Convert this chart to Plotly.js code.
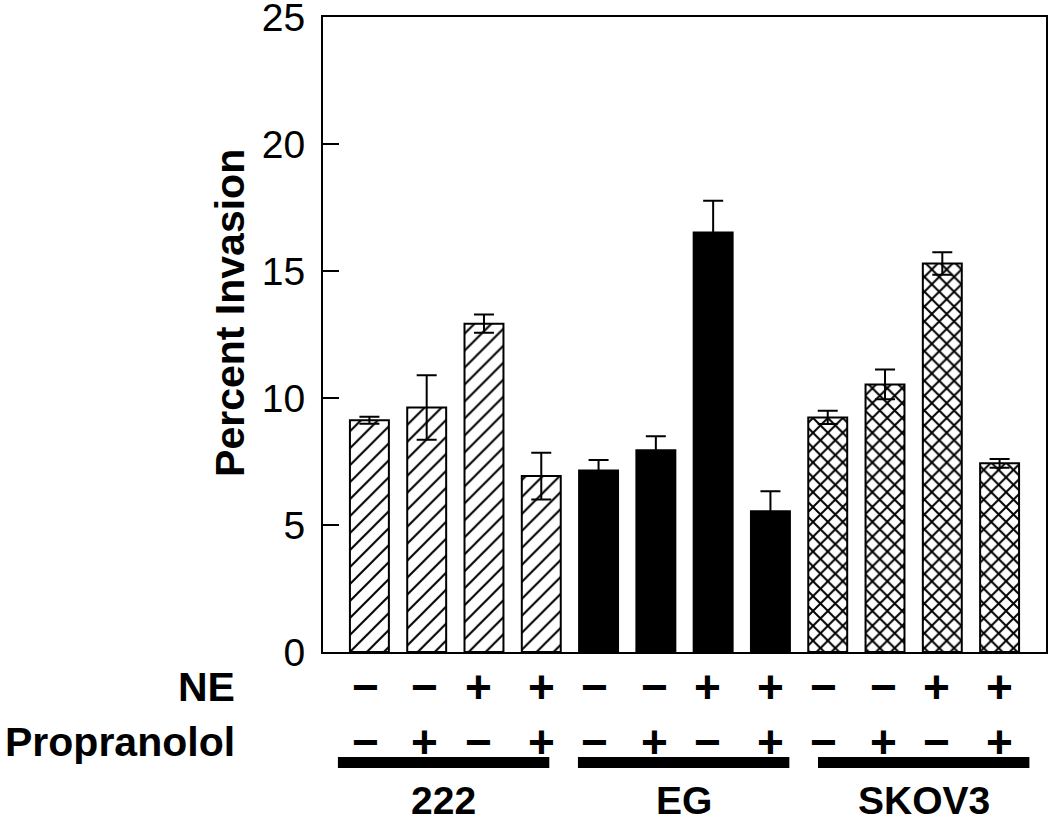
<!DOCTYPE html>
<html>
<head>
<meta charset="utf-8">
<script src="https://cdn.plot.ly/plotly-3.0.1.min.js"></script>
<style>html,body{margin:0;padding:0;background:#fff;}#chart{width:1050px;height:821px;}</style>
</head>
<body>
<div id="chart"></div>
<script>
// ---- data ----
const cellLines = ['222', 'EG', 'SKOV3'];
const neSigns = ['\u2212', '\u2212', '+', '+'];
const propSigns = ['\u2212', '+', '\u2212', '+'];
const values222 = [9.13, 9.63, 12.93, 6.93];
const errors222 = [0.14, 1.27, 0.36, 0.92];
const valuesEG = [7.15, 7.95, 16.52, 5.54];
const errorsEG = [0.41, 0.55, 1.25, 0.79];
const valuesSKOV3 = [9.24, 10.54, 15.30, 7.43];
const errorsSKOV3 = [0.26, 0.59, 0.44, 0.17];
const yTicks = [0, 5, 10, 15, 20, 25];

// ---- build ----
const FONT = '"Liberation Sans", Arial, Helvetica, sans-serif';
const groupVals = [values222, valuesEG, valuesSKOV3];
const groupErrs = [errors222, errorsEG, errorsSKOV3];
const patterns = [
  {shape: '/', size: 12, solidity: 0.17, fgcolor: '#000', bgcolor: '#fff', fillmode: 'replace'},
  {shape: '', fgcolor: '#000', bgcolor: '#000'},
  {shape: 'x', size: 10.5, solidity: 0.34, fgcolor: '#000', bgcolor: '#fff', fillmode: 'replace'}
];
const fills = ['#fff', '#000', '#fff'];

const cats = [];
cellLines.forEach(c => neSigns.forEach((n, i) => cats.push(c + ' NE' + n + ' P' + propSigns[i])));

const traces = cellLines.map((c, g) => ({
  type: 'bar',
  x: cats.slice(g * 4, g * 4 + 4),
  y: groupVals[g],
  width: 0.68,
  marker: {color: fills[g], pattern: patterns[g], line: {color: '#000', width: 2}},
  error_y: {type: 'data', array: groupErrs[g], visible: true, color: '#000', thickness: 2, width: 10},
  showlegend: false,
  hoverinfo: 'y'
}));

const annotations = [];
const shapes = [];
const rowY = {ne: -0.055, prop: -0.1417};
const signShift = [-0.07, -0.03, -0.1, 0];
cats.forEach((c, k) => {
  const i = k % 4;
  annotations.push({x: k + signShift[i], y: rowY.ne, xref: 'x', yref: 'paper', text: neSigns[i], showarrow: false,
    font: {family: FONT, size: 46, color: '#000', weight: 'bold'}, xanchor: 'center', yanchor: 'middle'});
  annotations.push({x: k + signShift[i], y: rowY.prop, xref: 'x', yref: 'paper', text: propSigns[i], showarrow: false,
    font: {family: FONT, size: 46, color: '#000', weight: 'bold'}, xanchor: 'center', yanchor: 'middle'});
});
cellLines.forEach((c, g) => {
  const x0 = g * 4 - 0.55 + g * 0.19, x1 = x0 + 3.69;
  shapes.push({type: 'rect', xref: 'x', yref: 'paper', x0: x0, x1: x1, y0: -0.1827, y1: -0.1654,
    fillcolor: '#000', line: {width: 0}});
  annotations.push({x: (x0 + x1) / 2, y: -0.2331, xref: 'x', yref: 'paper', text: '<b>' + c + '</b>', showarrow: false,
    font: {family: FONT, size: 39, color: '#000'}, xanchor: 'center', yanchor: 'middle'});
});
annotations.push({x: -0.119, y: -0.055, xref: 'paper', yref: 'paper', text: '<b>NE</b>', showarrow: false,
  font: {family: FONT, size: 41, color: '#000'}, xanchor: 'right', yanchor: 'middle'});
annotations.push({x: -0.119, y: -0.1417, xref: 'paper', yref: 'paper', text: '<b>Propranolol</b>', showarrow: false,
  font: {family: FONT, size: 41, color: '#000'}, xanchor: 'right', yanchor: 'middle'});
annotations.push({x: -0.1286, y: 0.534, xref: 'paper', yref: 'paper', text: '<b>Percent Invasion</b>', showarrow: false,
  textangle: -90, font: {family: FONT, size: 41, color: '#000'}, xanchor: 'center', yanchor: 'middle'});

const layout = {
  width: 1050, height: 821,
  margin: {l: 323, r: 4, t: 17, b: 169},
  paper_bgcolor: '#fff', plot_bgcolor: '#fff',
  barmode: 'overlay',
  font: {family: FONT, color: '#000'},
  xaxis: {type: 'category', categoryorder: 'array', categoryarray: cats, range: [-0.81, 11.81],
    showticklabels: false, ticks: '', showgrid: false, zeroline: false,
    showline: true, linecolor: '#000', linewidth: 2, mirror: true},
  yaxis: {range: [0, 25.01], tickvals: yTicks, ticktext: yTicks.map(String), ticks: 'inside', ticklen: 16, tickwidth: 2,
    tickcolor: '#000', tickfont: {family: FONT, size: 39, color: '#000'}, ticklabelstandoff: 8,
    ticklabeloverflow: 'allow',
    showgrid: false, zeroline: false, showline: true, linecolor: '#000', linewidth: 2, mirror: true},
  shapes: shapes,
  annotations: annotations
};

Plotly.newPlot('chart', traces, layout, {displayModeBar: false, staticPlot: true});
</script>
</body>
</html>
